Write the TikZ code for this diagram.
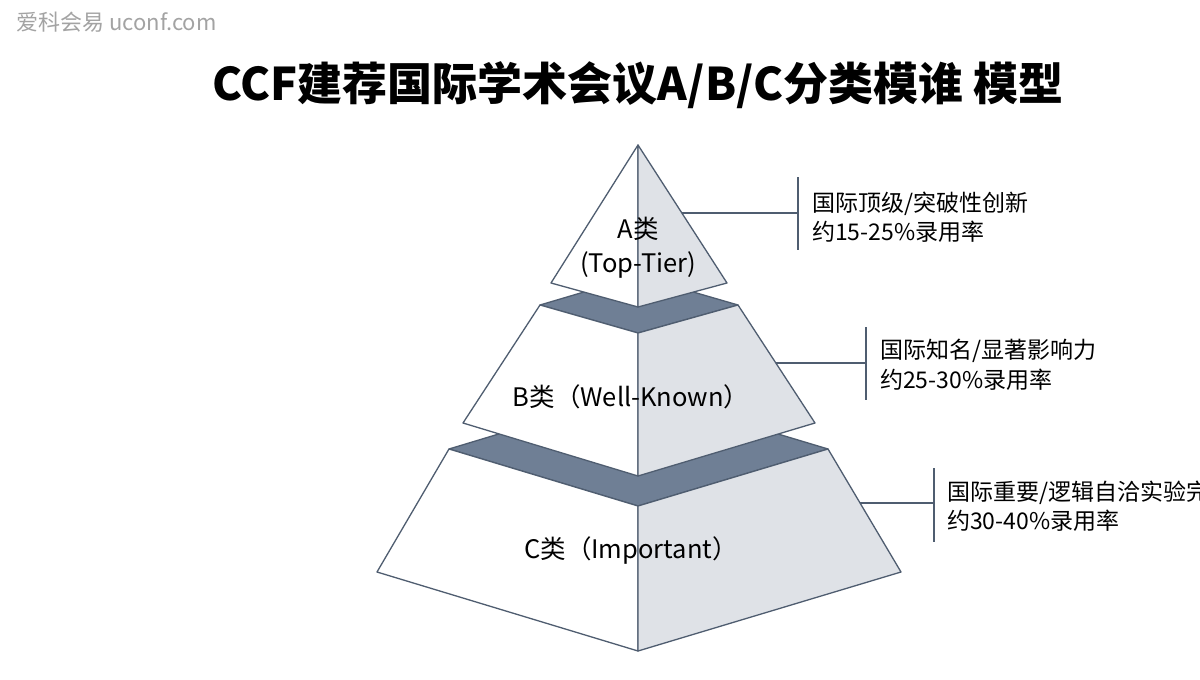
\documentclass[tikz,border=0pt]{standalone}
\usepackage{fontspec}
\setmainfont{Noto Sans CJK SC}
\usepackage{tikz}
\usetikzlibrary{positioning}

\definecolor{edgeblue}{HTML}{4F5D70}
\definecolor{bandblue}{HTML}{6F7F95}
\definecolor{shadegray}{HTML}{DFE2E7}
\definecolor{markgray}{HTML}{A3A3A3}

\begin{document}
\begin{tikzpicture}[x=1pt, y=-1pt,
  face/.style={draw=edgeblue, line width=1.3pt, line join=round},
  lface/.style={face, fill=white},
  rface/.style={face, fill=shadegray},
  band/.style={face, fill=bandblue},
  tier/.style={font=\fontsize{25.5}{34}\selectfont, align=center, inner sep=0pt},
  note/.style={font=\fontsize{23}{29.5}\selectfont, align=left, anchor=west, inner sep=0pt},
  link/.style={draw=edgeblue, line width=1.4pt}
]
\useasboundingbox[fill=white] (0,0) rectangle (1200,680);

\node[anchor=west, text=markgray, font=\fontsize{22}{24}\selectfont] (mark) at (13,22) {爱科会易 uconf.com};
\node[font=\fontsize{45}{50}\selectfont\bfseries] (title) at (638,85) {CCF建荐国际学术会议A/B/C分类模谁 模型};

% C tier
\draw[band] (449,449) -- (638,392) -- (828,449) -- (638,506) -- cycle;
\draw[lface] (449,449) -- (638,506) -- (638,651) -- (377,572) -- cycle;
\draw[rface] (828,449) -- (638,506) -- (638,651) -- (901,572) -- cycle;
% B tier
\draw[band] (540,305) -- (638,276) -- (738,305) -- (638,333) -- cycle;
\draw[lface] (540,305) -- (638,333) -- (638,476) -- (463,423) -- cycle;
\draw[rface] (738,305) -- (638,333) -- (638,476) -- (815,423) -- cycle;
% A tier
\draw[lface] (638,145) -- (638,307) -- (551,283) -- cycle;
\draw[rface] (638,145) -- (638,307) -- (727,283) -- cycle;

\node[tier] (a) at (638,248) {A类\\(Top-Tier)};
\node[tier] (b) at (631,397) {B类（Well-Known）};
\node[tier] (c) at (631,551) {C类（Important）};

\coordinate (a-edge) at (682,213);
\coordinate (b-edge) at (776,363);
\coordinate (c-edge) at (860,503);
\coordinate (a-top) at (798,177);
\coordinate (a-bot) at (798,250);
\coordinate (b-top) at (866,327);
\coordinate (b-bot) at (866,400);
\coordinate (c-top) at (934,468);
\coordinate (c-bot) at (934,542);

\draw[link] (a-top) -- (a-bot);
\draw[link] (b-top) -- (b-bot);
\draw[link] (c-top) -- (c-bot);
\draw[link] (a-edge) -- (a-edge -| a-top);
\draw[link] (b-edge) -- (b-edge -| b-top);
\draw[link] (c-edge) -- (c-edge -| c-top);

\node[note] (a-note) at (812,217) {国际顶级/突破性创新\\约15-25\%录用率};
\node[note] (b-note) at (880,365) {国际知名/显著影响力\\约25-30\%录用率};
\node[note] (c-note) at (947,506) {国际重要/逻辑自洽实验完\\约30-40\%录用率};
\end{tikzpicture}
\end{document}
